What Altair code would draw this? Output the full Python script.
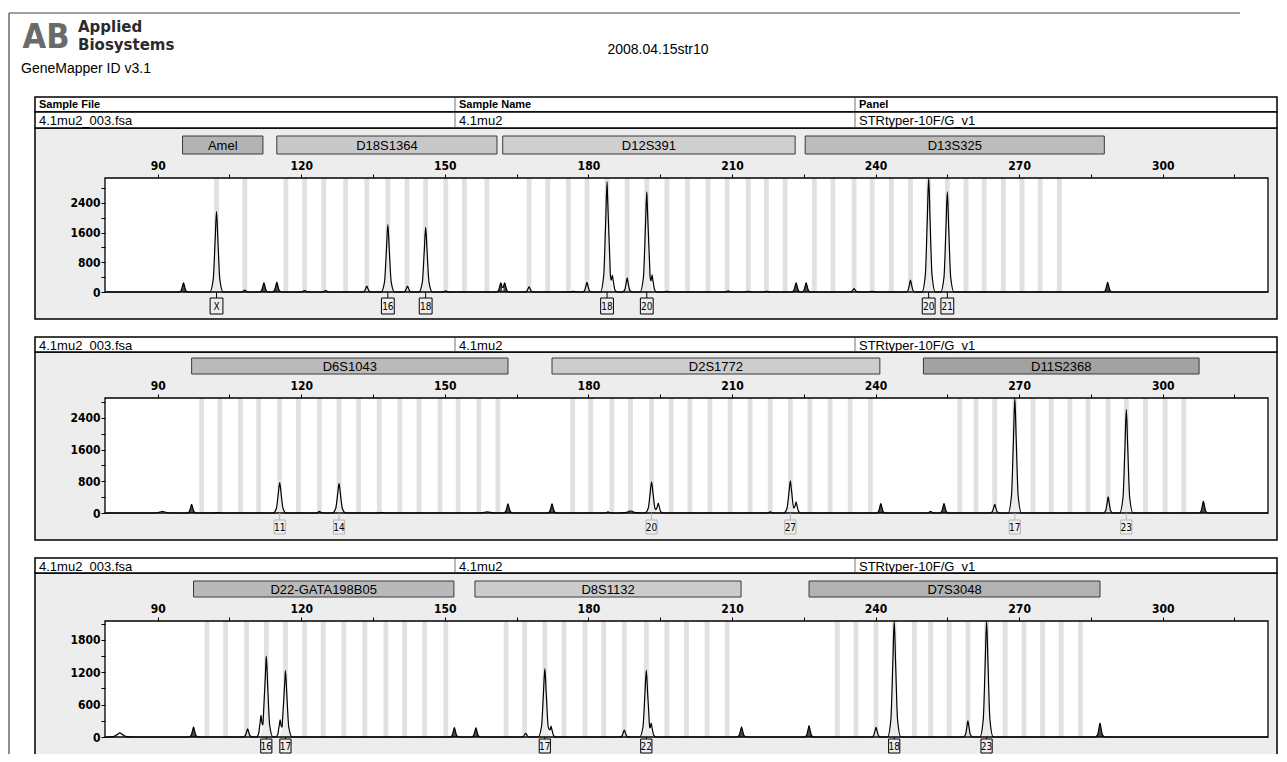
import altair as alt
import numpy as np
import pandas as pd

# ---------------- values ----------------
report_title = "2008.04.15str10"
software_name = "GeneMapper ID v3.1"
company_lines = ["Applied", "Biosystems"]
column_titles = ["Sample File", "Sample Name", "Panel"]
sample_file = "4.1mu2_003.fsa"
sample_name = "4.1mu2"
panel_name = "STRtyper-10F/G_v1"

size_domain = [79, 322]
size_ticks = [90, 105, 120, 135, 150, 165, 180, 195, 210, 225, 240, 255, 270, 285, 300, 315]

# ---- panel 1 ----
p1_markers = ["Amel", "D18S1364", "D12S391", "D13S325"]
p1_marker_start = [95.2, 114.9, 162.1, 225.3]
p1_marker_end = [112.0, 160.9, 223.2, 287.8]
p1_bins = [102.3, 108.2, 116.8, 120.7, 124.7, 129.3, 133.7, 138.1, 142.1, 146.0, 150.2, 154.1,
           158.8, 167.6, 171.5, 175.8, 179.7, 183.9, 188.1, 192.2, 196.4, 200.7, 205.0, 209.0,
           213.4, 217.2, 221.1, 227.2, 231.1, 235.5, 239.3, 243.3, 247.3, 251.1, 255.0, 258.9,
           262.7, 266.7, 270.6, 274.4, 278.4]
p1_peak_bp = [95.4, 102.3, 108.2, 112.2, 114.9, 120.7, 125.1, 133.7, 138.1, 142.2, 146.0, 150.2,
              161.7, 162.5, 167.6, 176.8, 179.7, 183.9, 185.0, 188.1, 192.2, 193.3, 196.4, 209.2,
              213.4, 217.3, 223.4, 225.5, 235.5, 239.3, 247.3, 251.1, 255.0, 288.5]
p1_peak_rfu = [250, 2170, 50, 250, 270, 40, 40, 160, 1820, 160, 1740, 30,
               250, 250, 140, 20, 260, 2970, 450, 380, 2700, 460, 20, 30,
               20, 20, 250, 250, 90, 20, 320, 3074, 2700, 260]
p1_peak_kind = ["d", "c", "m", "d", "d", "m", "m", "m", "c", "m", "c", "m",
                "d", "d", "m", "m", "m", "c", "m", "m", "c", "m", "m", "m",
                "m", "m", "d", "d", "m", "m", "m", "c", "c", "d"]
p1_alleles = ["X", "16", "18", "18", "20", "20", "21"]
p1_allele_bp = [102.3, 138.1, 146.0, 183.9, 192.2, 251.1, 255.0]
p1_rfu_max = 3074
p1_rfu_ticks = [0, 400, 800, 1200, 1600, 2000, 2400, 2800]

# ---- panel 2 ----
p2_markers = ["D6S1043", "D2S1772", "D11S2368"]
p2_marker_start = [97.1, 172.4, 250.0]
p2_marker_end = [163.2, 240.9, 307.6]
p2_bins = [99.2, 103.0, 107.3, 111.1, 115.5, 119.4, 123.8, 127.9, 132.0, 136.3, 140.6, 144.6,
           149.0, 152.8, 157.1, 161.1, 176.7, 180.5, 184.9, 188.8, 193.2, 197.3, 201.2, 205.4,
           209.6, 213.8, 218.0, 222.2, 226.3, 230.5, 234.7, 238.9, 257.6, 261.0, 264.9, 269.1,
           272.9, 276.7, 280.6, 284.4, 288.6, 292.4, 296.4, 300.5, 304.4]
p2_peak_bp = [91.0, 97.1, 102.5, 115.5, 123.8, 127.9, 136.8, 158.9, 163.2, 172.4, 184.1, 188.8,
              193.2, 194.6, 218.0, 222.2, 223.4, 241.1, 251.5, 254.3, 264.9, 269.1, 288.6, 292.4,
              308.5]
p2_peak_rfu = [40, 220, 10, 770, 40, 750, 15, 30, 230, 230, 30, 50,
               790, 250, 30, 810, 280, 240, 40, 240, 220, 2905, 410, 2610,
               300]
p2_peak_kind = ["b", "d", "m", "c", "m", "c", "m", "b", "d", "d", "m", "b",
                "c", "m", "m", "c", "m", "d", "m", "d", "m", "c", "m", "c",
                "d"]
p2_alleles = ["11", "14", "20", "27", "17", "23"]
p2_allele_bp = [115.5, 127.9, 193.2, 222.2, 269.1, 292.4]
p2_rfu_max = 2905
p2_rfu_ticks = [0, 400, 800, 1200, 1600, 2000, 2400, 2800]

# ---- panel 3 ----
p3_markers = ["D22-GATA198B05", "D8S1132", "D7S3048"]
p3_marker_start = [97.5, 156.3, 226.1]
p3_marker_end = [151.9, 211.9, 286.9]
p3_bins = [100.3, 104.2, 108.6, 112.7, 116.7, 120.7, 124.6, 128.9, 133.3, 137.7, 141.6, 145.8,
           150.2, 162.8, 166.7, 170.9, 174.9, 179.3, 183.2, 187.5, 192.1, 196.4, 200.5, 204.8,
           209.0, 232.0, 235.9, 240.1, 243.9, 248.1, 251.5, 255.4, 259.3, 263.2, 267.1, 271.0,
           274.9, 278.8, 282.8]
p3_peak_bp = [82.1, 97.5, 108.8, 111.6, 112.7, 115.6, 116.7, 152.0, 156.5, 166.9, 170.9, 172.2,
              187.5, 192.1, 193.1, 212.0, 226.1, 240.1, 243.9, 259.3, 263.2, 286.9]
p3_peak_rfu = [75, 190, 150, 400, 1500, 320, 1230, 175, 170, 70, 1270, 200,
               130, 1240, 260, 190, 210, 180, 2152, 300, 2152, 260]
p3_peak_kind = ["b", "d", "m", "m", "c", "m", "c", "d", "d", "m", "c", "m",
                "m", "c", "m", "d", "d", "m", "c", "m", "c", "d"]
p3_alleles = ["16", "17", "17", "22", "18", "23"]
p3_allele_bp = [112.7, 116.7, 170.9, 192.1, 243.9, 263.2]
p3_rfu_max = 2152
p3_rfu_ticks = [0, 300, 600, 900, 1200, 1500, 1800, 2100]

# ---------------- styles / layout (page pixels) ----------------
SANS = "Liberation Sans, Arial, Helvetica, sans-serif"
NARROW = "Liberation Sans Narrow, Arial Narrow, DejaVu Sans Condensed, Liberation Sans, sans-serif"
LOGO = "DejaVu Sans, Liberation Sans, sans-serif"
BAR_FILL = {"Amel": "#b3b3b3", "D18S1364": "#c8c8c8", "D12S391": "#cfcfcf", "D13S325": "#bcbcbc",
            "D6S1043": "#bababa", "D2S1772": "#cdcdcd", "D11S2368": "#a2a2a2",
            "D22-GATA198B05": "#b9b9b9", "D8S1132": "#cbcbcb", "D7S3048": "#b2b2b2"}
PEAK_FILL = {"c": "#ececec", "d": "#4a4a4a"}
HALF_WIDTH = {"c": 1.4, "d": 1.0, "m": 1.0, "b": 2.4}
SHAPE_OFF = np.array([-1.0, -0.5, -0.2, 0.0, 0.2, 0.5, 1.0])
SHAPE_FR = np.array([0.0, 0.15, 0.65, 1.0, 0.65, 0.15, 0.0])

LEFT, RIGHT = 35, 1277
PLOT_L, PLOT_R = 105, 1268
COL2, COL3 = 455, 855

LAYOUT = [
    dict(row=(112, 128), body=(128, 319), bars=(136, 154), plot=(178, 292), lab=306, lh=16, box="black"),
    dict(row=(337, 352), body=(352, 540), bars=(358, 374), plot=(398, 513), lab=527, lh=14, box="#b5b5b5"),
    dict(row=(558, 573), body=(573, 800), bars=(581, 597), plot=(621, 737), lab=746, lh=14, box="black"),
]

ONE = pd.DataFrame({"k": [0]})


def c(v):
    return v - 8


def vrect(x1, x2, y1, y2, fill, stroke="black", sw=1.0):
    return alt.Chart(ONE).mark_rect(fill=fill, stroke=stroke, strokeWidth=sw).encode(
        x=alt.value(c(x1)), x2=alt.value(c(x2)), y=alt.value(c(y1)), y2=alt.value(c(y2)))


def vrule(x1, y1, x2, y2, color="black", sw=1.0):
    return alt.Chart(ONE).mark_rule(color=color, strokeWidth=sw).encode(
        x=alt.value(c(x1)), x2=alt.value(c(x2)), y=alt.value(c(y1)), y2=alt.value(c(y2)))


def vtext(s, x, y, size, weight="normal", align="left", font=SANS, color="black"):
    return alt.Chart(pd.DataFrame({"t": [s]})).mark_text(
        align=align, baseline="middle", fontSize=size, fontWeight=weight, font=font, color=color
    ).encode(x=alt.value(c(x)), y=alt.value(c(y)), text="t:N")


def trace_frame(bp, rfu, kind):
    xs = [size_domain[0], size_domain[1]]
    for p, k in zip(bp, kind):
        xs.extend(p + SHAPE_OFF * HALF_WIDTH[k])
    xs = np.unique(np.round(np.array(xs, dtype=float), 3))
    ys = np.zeros_like(xs)
    for p, h, k in zip(bp, rfu, kind):
        ys = np.maximum(ys, np.interp(xs, p + SHAPE_OFF * HALF_WIDTH[k], SHAPE_FR * h, left=0, right=0))
    return pd.DataFrame({"bp": xs, "rfu": ys})


def fill_frame(bp, rfu, kind):
    rows = []
    for i, (p, h, k) in enumerate(zip(bp, rfu, kind)):
        if k in PEAK_FILL:
            for o, f in zip(SHAPE_OFF, SHAPE_FR):
                rows.append({"pid": i, "bp": p + o * HALF_WIDTH[k], "rfu": f * h, "fill": PEAK_FILL[k]})
    return pd.DataFrame(rows)


def make_panel(lay, markers, mstart, mend, bins, pbp, prfu, pkind, alleles, abp,
               rfu_max, rfu_ticks, label_step, header_layers):
    top, bottom = lay["plot"]
    xs = alt.Scale(domain=size_domain, range=[c(PLOT_L), c(PLOT_R)], nice=False, zero=False)
    ys = alt.Scale(domain=[0, rfu_max], range=[c(bottom), c(top)], nice=False, zero=False)
    xax = alt.Axis(orient="top", offset=-c(top), values=size_ticks, format="d",
                   labelExpr="datum.value % 30 == 0 ? datum.label : ''",
                   domain=False, grid=False, ticks=True, tickSize=4, tickColor="black", zindex=2,
                   labelFont=NARROW, labelFontSize=12, labelFontWeight="bold", labelColor="black",
                   labelPadding=2, labelFlush=False, labelOverlap=False, title=None)
    yax = alt.Axis(orient="left", offset=-c(PLOT_L), values=rfu_ticks, format="d",
                   labelExpr="datum.value %% %d == 0 ? datum.label : ''" % label_step,
                   domain=False, grid=False, ticks=True, tickSize=4, tickColor="black", zindex=2,
                   labelFont=NARROW, labelFontSize=12, labelFontWeight="bold", labelColor="black",
                   labelPadding=1, labelOverlap=False, title=None)

    def X(f):
        return alt.X(f, type="quantitative", scale=xs, axis=xax)

    def Y(f):
        return alt.Y(f, type="quantitative", scale=ys, axis=yax)

    layers = list(header_layers)
    r0, r1 = lay["row"]
    b0, b1 = lay["body"]
    layers += [
        vrect(LEFT, RIGHT, b0, b1, "#ededed", sw=1.5),
        vrect(LEFT, RIGHT, r0, r1, "white", sw=1.5),
        vrule(COL2, r0 + 1, COL2, r1 - 1, "#777"),
        vrule(COL3, r0 + 1, COL3, r1 - 1, "#777"),
        vtext(sample_file, LEFT + 4, (r0 + r1) / 2 + 1, 13),
        vtext(sample_name, COL2 + 4, (r0 + r1) / 2 + 1, 13),
        vtext(panel_name, COL3 + 4, (r0 + r1) / 2 + 1, 13),
    ]

    # locus bars
    mdf = pd.DataFrame({"name": markers, "start": mstart, "end": mend})
    mdf["mid"] = (mdf["start"] + mdf["end"]) / 2
    mdf["fill"] = mdf["name"].map(BAR_FILL)
    q0, q1 = lay["bars"]
    layers.append(alt.Chart(mdf).mark_rect(stroke="#3a3a3a", strokeWidth=1).encode(
        x=X("start"), x2="end", y=alt.value(c(q0)), y2=alt.value(c(q1)),
        fill=alt.Fill("fill:N", scale=None)))
    layers.append(alt.Chart(mdf).mark_text(fontSize=13, font=SANS, color="black", baseline="middle").encode(
        x=X("mid"), y=alt.value(c((q0 + q1) / 2 + 1)), text="name:N"))

    # plot area background
    area_df = pd.DataFrame({"x0": [size_domain[0]], "x1": [size_domain[1]], "y0": [0], "y1": [rfu_max]})
    layers.append(alt.Chart(area_df).mark_rect(fill="white").encode(
        x=X("x0"), x2="x1", y=Y("y0"), y2="y1"))

    # allele bins
    bdf = pd.DataFrame({"b": bins})
    bdf["lo"] = bdf["b"] - 0.5
    bdf["hi"] = bdf["b"] + 0.5
    bdf["y0"] = 0
    bdf["y1"] = rfu_max
    layers.append(alt.Chart(bdf).mark_rect(fill="#e1e1e1").encode(
        x=X("lo"), x2="hi", y=Y("y0"), y2="y1"))

    # filled peaks
    fdf = fill_frame(pbp, prfu, pkind)
    layers.append(alt.Chart(fdf).mark_area(interpolate="monotone").encode(
        x=X("bp"), y=Y("rfu"), fill=alt.Fill("fill:N", scale=None), detail="pid:N"))

    # trace
    tdf = trace_frame(pbp, prfu, pkind)
    layers.append(alt.Chart(tdf).mark_line(color="black", strokeWidth=1.2, interpolate="monotone").encode(
        x=X("bp"), y=Y("rfu")))

    # plot frame
    layers.append(alt.Chart(area_df).mark_rect(fill="white", fillOpacity=0, stroke="black", strokeWidth=1.3).encode(
        x=X("x0"), x2="x1", y=Y("y0"), y2="y1"))

    # allele labels
    adf = pd.DataFrame({"allele": alleles, "bp": abp})
    lab, lh = lay["lab"], lay["lh"]
    layers.append(alt.Chart(adf).mark_rule(color=lay["box"], strokeWidth=1).encode(
        x=X("bp"), y=alt.value(c(bottom)), y2=alt.value(c(lab - lh / 2))))
    layers.append(alt.Chart(adf).mark_point(
        shape="M-0.8,-1H0.8V1H-0.8Z", size=lh * lh, filled=False, stroke=lay["box"], strokeWidth=1, opacity=1
    ).encode(x=X("bp"), y=alt.value(c(lab))))
    layers.append(alt.Chart(adf).mark_text(fontSize=10, font=NARROW, color="black", baseline="middle").encode(
        x=X("bp"), y=alt.value(c(lab + 1)), text="allele:N"))

    return alt.layer(*layers)


header = [
    vrule(9, 13, 1240, 13, "#444", 1.2),
    vrule(9, 13, 9, 780, "#444", 1.2),
    vtext("AB", 46, 38, 34, "bold", "center", NARROW, "#6a6a6a"),
    vtext(company_lines[0], 78, 27, 15, "bold", "left", LOGO, "#2a2a2a"),
    vtext(company_lines[1], 78, 45, 15, "bold", "left", LOGO, "#2a2a2a"),
    vtext(software_name, 21, 69, 14),
    vtext(report_title, 658, 50, 14, align="center"),
    vrect(LEFT, RIGHT, 97, 112, "white", sw=1.5),
    vrule(COL2, 98, COL2, 111, "#777"),
    vrule(COL3, 98, COL3, 111, "#777"),
    vtext(column_titles[0], LEFT + 4, 105, 11, "bold"),
    vtext(column_titles[1], COL2 + 4, 105, 11, "bold"),
    vtext(column_titles[2], COL3 + 4, 105, 11, "bold"),
]

panel1 = make_panel(LAYOUT[0], p1_markers, p1_marker_start, p1_marker_end, p1_bins,
                    p1_peak_bp, p1_peak_rfu, p1_peak_kind, p1_alleles, p1_allele_bp,
                    p1_rfu_max, p1_rfu_ticks, 800, header)
panel2 = make_panel(LAYOUT[1], p2_markers, p2_marker_start, p2_marker_end, p2_bins,
                    p2_peak_bp, p2_peak_rfu, p2_peak_kind, p2_alleles, p2_allele_bp,
                    p2_rfu_max, p2_rfu_ticks, 800, [])
panel3 = make_panel(LAYOUT[2], p3_markers, p3_marker_start, p3_marker_end, p3_bins,
                    p3_peak_bp, p3_peak_rfu, p3_peak_kind, p3_alleles, p3_allele_bp,
                    p3_rfu_max, p3_rfu_ticks, 600, [])

chart = alt.layer(panel1, panel2, panel3).resolve_scale(
    x="independent", y="independent"
).properties(
    width=1271, height=746, padding=0,
    autosize=alt.AutoSizeParams(type="none"), background="white"
).configure_view(stroke=None)

chart.save("out.html", embed_options={"renderer": "svg", "actions": False})
